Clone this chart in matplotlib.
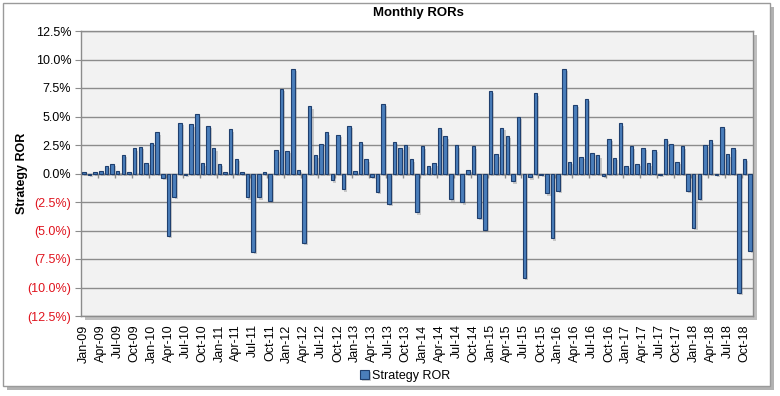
import matplotlib
matplotlib.use("Agg")
import matplotlib.pyplot as plt
import matplotlib.patheffects as pe
from matplotlib.patches import Rectangle
import pandas as pd
import numpy as np

plt.rcParams['font.family'] = ['Liberation Sans', 'DejaVu Sans']

# monthly strategy returns in %, Jan-09 .. Nov-18
ror = [
    0.12, -0.1, 0.1, 0.26, 0.7, 0.8, 0.2, 1.6, 0.1, 2.2, 2.35, 0.9,
    2.7, 3.6, -0.4, -5.45, -2.05, 4.47, -0.1, 4.3, 5.18, 0.88, 4.2, 2.2,
    0.8, 0.1, 3.86, 1.3, 0.1, -2.1, -6.87, -2.1, 0.1, -2.37, 2.1, 7.4,
    1.96, 9.2, 0.35, -6.08, 5.88, 1.58, 2.63, 3.6, -0.61, 3.42, -1.4, 4.2,
    0.18, 2.8, 1.23, -0.3, -1.58, 6.14, -2.66, 2.8, 2.28, 2.54, 1.23, -3.42,
    2.37, 0.7, 0.88, 4.03, 3.25, -2.28, 2.46, -2.54, 0.35, 2.37, -3.89, -4.94,
    7.28, 1.67, 4.03, 3.33, -0.7, 5.0, -9.2, -0.35, 7.02, -0.1, -1.75, -5.7,
    -1.55, 9.2, 1.0, 6.05, 1.49, 6.5, 1.84, 1.58, -0.18, 3.07, 1.4, 4.39,
    0.7, 2.37, 0.8, 2.28, 0.88, 2.1, -0.1, 3.07, 2.63, 1.05, 2.37, -1.5,
    -4.77, -2.2, 2.54, 2.9, -0.1, 4.12, 1.67, 2.28, -10.44, 1.3, -6.78,
]
months = pd.date_range('2009-01-01', periods=len(ror), freq='MS').strftime('%b-%y').tolist()
yticks = [12.5, 10.0, 7.5, 5.0, 2.5, 0.0, -2.5, -5.0, -7.5, -10.0, -12.5]

W, H = 780, 396
fig = plt.figure(figsize=(W / 100, H / 100), dpi=100)
fig.patch.set_facecolor('white')

# chart frame with shadow
frame = Rectangle((3 / W, 1 - 386 / H), 767 / W, 383 / H, transform=fig.transFigure,
                  facecolor='white', edgecolor='#9A9A9A', linewidth=1.0, zorder=-10,
                  path_effects=[pe.SimplePatchShadow(offset=(3, -3), shadow_rgbFace='#808080', alpha=0.6),
                                pe.Normal()])
fig.patches.append(frame)

ax = fig.add_axes([81 / W, 1 - 316 / H, 672 / W, 285 / H])
ax.set_facecolor('#F2F2F2')
for s in ax.spines.values():
    s.set_color('#8C8C8C')
    s.set_linewidth(1.0)

x = np.arange(len(ror))
bars = ax.bar(x, ror, width=0.62, color='#4A7EBB', edgecolor='#1F3F6E', linewidth=0.8, zorder=3)
for b in bars:
    b.set_path_effects([pe.SimplePatchShadow(offset=(1.5, -1.5), shadow_rgbFace='#7A7A7A', alpha=0.35),
                        pe.Normal()])

ax.set_xlim(-0.5, len(ror) - 0.5)
ax.set_ylim(-12.5, 12.5)
ax.set_yticks(yticks)
ax.yaxis.grid(True, color='#8C8C8C', linewidth=1.0, zorder=0)
ax.set_axisbelow(True)
ax.axhline(0, color='#8C8C8C', linewidth=1.0, zorder=2)

# small category ticks on the zero line
bounds = np.arange(2.5, len(ror), 3)
ax.vlines(bounds, -0.38, 0, color='#8C8C8C', linewidth=1.0, zorder=2)

ylabels = []
for v in yticks:
    if v < 0:
        ylabels.append('({:.1f}%)'.format(-v))
    else:
        ylabels.append('{:.1f}%'.format(v))
ax.set_yticklabels(ylabels, fontsize=9)
for lab, v in zip(ax.get_yticklabels(), yticks):
    lab.set_color('#E0141E' if v < 0 else 'black')
ax.tick_params(axis='y', length=4, color='#8C8C8C', pad=3)

ax.set_xticks(x[::3])
ax.set_xticklabels(months[::3], rotation=90, fontsize=9)
ax.tick_params(axis='x', length=0, pad=6)

ax.patch.set_path_effects([pe.SimplePatchShadow(offset=(3, -3), shadow_rgbFace='#808080', alpha=0.5),
                           pe.Normal()])

fig.text(418 / W, 1 - 13 / H, 'Monthly RORs', ha='center', va='center', fontsize=9.5, fontweight='bold')
fig.text(22 / W, 1 - 173 / H, 'Strategy ROR', ha='center', va='center', rotation=90,
         fontsize=9, fontweight='bold')

fig.legend([bars], ['Strategy ROR'], loc='center', bbox_to_anchor=(405 / W, 1 - 376 / H),
           frameon=False, fontsize=9, handlelength=0.7, handleheight=0.7, handletextpad=0.2)

fig.savefig('out.png', dpi=100)
